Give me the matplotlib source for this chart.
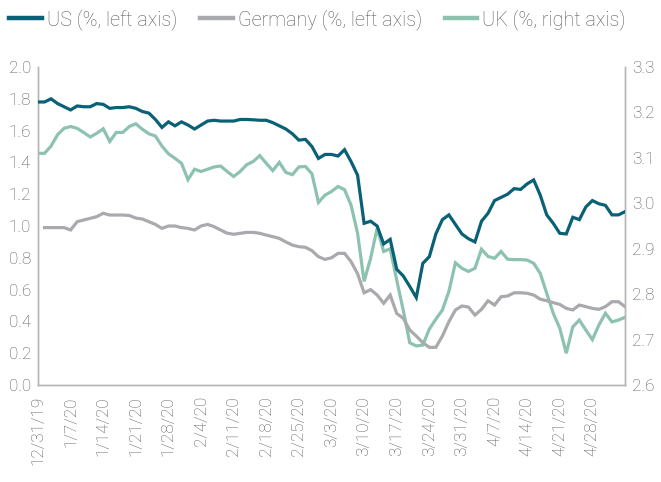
import numpy as np
import matplotlib.pyplot as plt
from matplotlib.lines import Line2D

plt.rcParams['font.family'] = ['Roboto', 'DejaVu Sans']
plt.rcParams['font.weight'] = 'light'

# one value per business day, 12/31/19 .. 5/5/20
tick_labels = ["12/31/19", "1/7/20", "1/14/20", "1/21/20", "1/28/20", "2/4/20",
               "2/11/20", "2/18/20", "2/25/20", "3/3/20", "3/10/20", "3/17/20",
               "3/24/20", "3/31/20", "4/7/20", "4/14/20", "4/21/20", "4/28/20"]

us = [1.78, 1.78, 1.80, 1.77, 1.75, 1.73, 1.755, 1.75, 1.75, 1.77,
      1.765, 1.74, 1.745, 1.745, 1.75, 1.74, 1.72, 1.71, 1.67, 1.62,
      1.655, 1.63, 1.655, 1.635, 1.61, 1.635, 1.66, 1.665, 1.66, 1.66,
      1.66, 1.67, 1.67, 1.668, 1.665, 1.665, 1.65, 1.63, 1.61, 1.58,
      1.54, 1.545, 1.50, 1.425, 1.45, 1.45, 1.44, 1.48, 1.405, 1.32,
      1.017, 1.03, 1.00, 0.887, 0.916, 0.728, 0.686, 0.62, 0.55, 0.765,
      0.807, 0.95, 1.04, 1.07, 1.01, 0.95, 0.92, 0.90, 1.03, 1.08,
      1.16, 1.18, 1.20, 1.235, 1.23, 1.265, 1.29, 1.195, 1.07, 1.017,
      0.954, 0.95, 1.055, 1.04, 1.12, 1.16, 1.14, 1.13, 1.07, 1.07,
      1.09]

germany = [np.nan, 0.99, 0.99, 0.99, 0.99, 0.975, 1.027, 1.038, 1.048, 1.059,
           1.08, 1.069, 1.069, 1.069, 1.066, 1.05, 1.044, 1.027, 1.01, 0.985,
           1.0, 1.0, 0.99, 0.985, 0.975, 1.0, 1.01, 0.996, 0.975, 0.955,
           0.948, 0.954, 0.96, 0.96, 0.954, 0.943, 0.933, 0.922, 0.90, 0.88,
           0.87, 0.866, 0.845, 0.807, 0.79, 0.80, 0.828, 0.828, 0.776, 0.70,
           0.58, 0.60, 0.566, 0.514, 0.566, 0.45, 0.42, 0.346, 0.308, 0.266,
           0.237, 0.237, 0.308, 0.398, 0.472, 0.497, 0.49, 0.44, 0.476, 0.53,
           0.503, 0.555, 0.56, 0.58, 0.58, 0.577, 0.566, 0.54, 0.53, 0.518,
           0.507, 0.482, 0.472, 0.503, 0.493, 0.482, 0.476, 0.493, 0.524, 0.524,
           0.493]

uk = [3.11, 3.11, 3.126, 3.151, 3.165, 3.169, 3.165, 3.156, 3.146, 3.154,
      3.164, 3.136, 3.156, 3.156, 3.169, 3.175, 3.163, 3.153, 3.148, 3.126,
      3.109, 3.099, 3.088, 3.052, 3.075, 3.07, 3.075, 3.08, 3.082, 3.07,
      3.059, 3.07, 3.085, 3.092, 3.105, 3.088, 3.072, 3.09, 3.068, 3.063,
      3.08, 3.081, 3.065, 3.002, 3.018, 3.026, 3.037, 3.03, 2.996, 2.934,
      2.828, 2.879, 2.945, 2.894, 2.90, 2.831, 2.765, 2.693, 2.686, 2.688,
      2.723, 2.745, 2.765, 2.806, 2.869, 2.857, 2.85, 2.857, 2.899, 2.883,
      2.879, 2.894, 2.877, 2.876, 2.876, 2.875, 2.868, 2.846, 2.802, 2.758,
      2.725, 2.67, 2.728, 2.743, 2.721, 2.70, 2.732, 2.758, 2.739, 2.743,
      2.749]

c_us = "#0a6176"
c_de = "#a9aaad"
c_uk = "#8dc2ae"
c_txt = "#5a5a5a"
c_ax = "#b5b5b5"

x = np.arange(len(us))

fig = plt.figure(figsize=(6.61, 4.82), dpi=100)
ax = fig.add_axes([0.0575, 0.2012, 0.888, 0.6598])
ax2 = ax.twinx()

ax.plot(x, germany, color=c_de, lw=2.3, solid_joinstyle="miter")
ax2.plot(x, uk, color=c_uk, lw=2.3, solid_joinstyle="miter")
ax.plot(x, us, color=c_us, lw=2.3, solid_joinstyle="miter", zorder=5)
ax.set_zorder(ax2.get_zorder() + 1)
ax.patch.set_visible(False)

ax.set_xlim(0, len(us) - 1)
ax.set_ylim(0, 2.0)
ax.set_yticks(np.arange(0, 2.01, 0.2))
ax.set_yticklabels([f"{v:.1f}" for v in np.arange(0, 2.01, 0.2)])
ax2.set_ylim(2.6, 3.3)
ax2.set_yticks(np.arange(2.6, 3.31, 0.1))
ax2.set_yticklabels([f"{v:.1f}" for v in np.arange(2.6, 3.31, 0.1)])

ax.set_xticks(np.arange(0, 5 * len(tick_labels), 5))
ax.set_xticklabels(tick_labels, rotation=90)

for a in (ax, ax2):
    a.tick_params(length=0, labelsize=12.3, colors=c_txt, pad=5)
    a.spines["top"].set_visible(False)
    for s in ("left", "right", "bottom"):
        a.spines[s].set_color(c_ax)
        a.spines[s].set_linewidth(1)
ax.tick_params(axis="x", pad=8)

handles = [Line2D([], [], color=c_us, lw=3.2),
           Line2D([], [], color=c_de, lw=3.2),
           Line2D([], [], color=c_uk, lw=3.2)]
fig.legend(handles, ["US (%, left axis)", "Germany (%, left axis)", "UK (%, right axis)"],
           loc="upper left", bbox_to_anchor=(0.0, 1.0), ncol=3, frameon=False,
           fontsize=14.3, labelcolor=c_txt, handlelength=1.65, handletextpad=0.25,
           columnspacing=1.15, borderaxespad=0.15, borderpad=0.3)

fig.savefig("out.png", dpi=100)
